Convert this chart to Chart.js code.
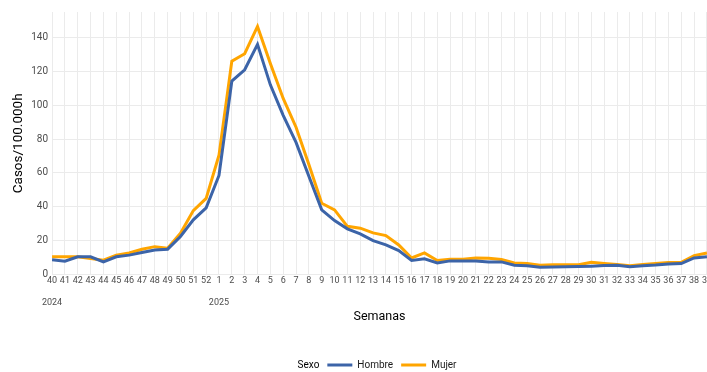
<!DOCTYPE html>
<html lang="es">
<head>
<meta charset="UTF-8">
<title>Casos por semana y sexo</title>
<style>
  html, body { margin: 0; padding: 0; background: #fff; overflow: hidden; }
  #wrap { width: 707px; height: 372px; overflow: hidden; }
</style>
</head>
<body>
<div id="wrap">
  <canvas id="myChart" width="713" height="372"></canvas>
</div>
<script src="https://cdn.jsdelivr.net/npm/chart.js@4"></script>
<script>
// semanas epidemiologicas 2024/40 - 2025/39
var semanas = ['40','41','42','43','44','45','46','47','48','49','50','51','52',
  '1','2','3','4','5','6','7','8','9','10','11','12','13','14','15','16','17','18','19','20',
  '21','22','23','24','25','26','27','28','29','30','31','32','33','34','35','36','37','38','39'];
var anios = {'0': '2024', '13': '2025'};

var hombre = [8.7, 7.9, 10.5, 10.5, 7.5, 10.5, 11.5, 13, 14.5, 15, 22.5, 32.3, 39.4,
  58.5, 114.2, 120.9, 135.9, 112, 94, 78, 58, 38.2, 31.9, 27, 24, 20.1, 17.5, 14.2, 8.3, 9.3, 6.9, 8.1, 8.1,
  8, 7.5, 7.5, 5.5, 5.2, 4.3, 4.5, 4.7, 4.8, 5, 5.3, 5.5, 4.7, 5.2, 5.6, 6.3, 6.5, 9.8, 10.5];
var mujer = [10.6, 10.5, 10.5, 9.5, 8.5, 11.5, 12.8, 15, 16.5, 15.5, 24.4, 37.8, 45,
  70.5, 126, 130.4, 146.5, 124.6, 104, 87, 65, 42.1, 38.2, 28.5, 27.4, 24.6, 23, 17.5, 9.8, 12.8, 8.3, 9.1, 9.1,
  9.8, 9.6, 8.9, 6.9, 6.5, 5.5, 5.8, 5.8, 5.8, 7.3, 6.6, 5.9, 5.3, 6, 6.5, 7.1, 7.3, 11.2, 12.8];
var yTicks = [0, 20, 40, 60, 80, 100, 120, 140];

var azul = '#3c64a8';
var naranja = '#ffa500';
var gris = '#ebebeb';

var ctx = document.getElementById('myChart').getContext('2d');
var chart = new Chart(ctx, {
    type: 'line',
    data: {
        labels: semanas,
        datasets: [{
            label: 'Hombre',
            data: hombre,
            borderColor: azul,
            backgroundColor: azul,
            borderWidth: 3,
            pointRadius: 0,
            tension: 0
        }, {
            label: 'Mujer',
            data: mujer,
            borderColor: naranja,
            backgroundColor: naranja,
            borderWidth: 3,
            pointRadius: 0,
            tension: 0
        }]
    },
    options: {
        responsive: false,
        animation: false,
        layout: { padding: { top: 12, left: 11, right: 0, bottom: -8 } },
        plugins: {
            tooltip: { enabled: false },
            legend: {
                position: 'bottom',
                labels: {
                    font: { family: 'Roboto', size: 10 },
                    color: '#1a1a1a',
                    boxWidth: 25,
                    boxHeight: 3,
                    padding: 8,
                    generateLabels: function(c) {
                        var items = [{
                            text: 'Sexo', fillStyle: 'rgba(0,0,0,0)', strokeStyle: 'rgba(0,0,0,0)',
                            lineWidth: 0, fontColor: '#000', hidden: false, datasetIndex: -1
                        }];
                        c.data.datasets.forEach(function(d, i) {
                            items.push({
                                text: d.label, fillStyle: d.borderColor, strokeStyle: d.borderColor,
                                lineWidth: 0, fontColor: '#1a1a1a', hidden: false, datasetIndex: i
                            });
                        });
                        return items;
                    }
                }
            }
        },
        scales: {
            x: {
                offset: false,
                grid: { color: gris, lineWidth: 1, drawTicks: false },
                border: { display: false },
                ticks: {
                    autoSkip: false,
                    maxRotation: 0,
                    padding: 1,
                    color: '#4d4d4d',
                    font: { family: 'Roboto', size: 9 },
                    callback: function(v, i) {
                        var a = anios[String(i)];
                        return a ? [semanas[i], '', a] : [semanas[i], '', ''];
                    }
                },
                title: {
                    display: true,
                    text: 'Semanas',
                    color: '#000',
                    font: { family: 'Roboto', size: 12.5 },
                    padding: { top: 0, bottom: 28 }
                }
            },
            y: {
                min: 0,
                max: 155,
                grid: { color: gris, lineWidth: 1, drawTicks: false },
                border: { display: false },
                afterBuildTicks: function(s) {
                    s.ticks = yTicks.map(function(v) { return { value: v }; });
                },
                ticks: {
                    padding: 4,
                    color: '#4d4d4d',
                    font: { family: 'Roboto', size: 10 }
                },
                title: {
                    display: true,
                    text: 'Casos/100.000h',
                    color: '#000',
                    font: { family: 'Roboto', size: 13.5 },
                    padding: { top: 0, bottom: 0 }
                }
            }
        }
    }
});
</script>
</body>
</html>
